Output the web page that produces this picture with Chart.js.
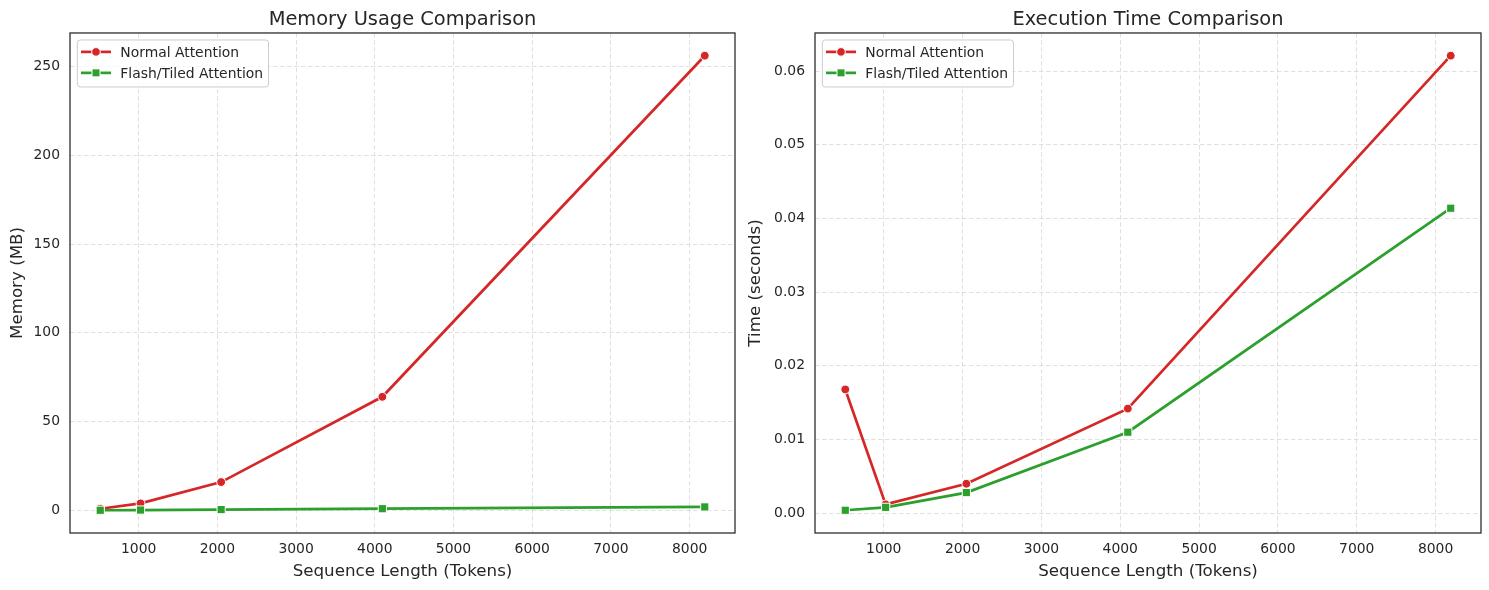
<!DOCTYPE html>
<html><head><meta charset="utf-8">
<script src="https://cdn.jsdelivr.net/npm/chart.js@4.4.1/dist/chart.umd.min.js"></script>
<style>
html,body{margin:0;padding:0;background:#fff;}
#wrap{position:relative;width:1489px;height:590px;overflow:hidden;}
canvas{position:absolute;top:0;}
</style></head><body>
<div id="wrap">
<canvas id="c1" width="745" height="590" style="left:0px"></canvas>
<canvas id="c2" width="744" height="590" style="left:745px"></canvas>
</div>
<script>
// ---- data ----
const seqLengths = [512, 1024, 2048, 4096, 8192];
const memoryNormal = [1, 4, 16, 64, 256];
const memoryFlash = [0.125, 0.25, 0.5, 1, 2];
const timeNormal = [0.0168, 0.0012, 0.0040, 0.0142, 0.0621];
const timeFlash = [0.0004, 0.0008, 0.0028, 0.0110, 0.0414];
const xTicks = [1000, 2000, 3000, 4000, 5000, 6000, 7000, 8000];
const memoryTicks = [0, 50, 100, 150, 200, 250];
const timeTicks = [0, 0.01, 0.02, 0.03, 0.04, 0.05, 0.06];
const seriesLabels = ['Normal Attention', 'Flash/Tiled Attention'];
const seriesColors = ['#d62728', '#2ca02c'];

const FONT = '"DejaVu Sans", "Liberation Sans", sans-serif';
const TEXT = '#262626';
const GRID = 'rgba(204,204,204,0.6)';

function padRange(vals) {
  const mn = Math.min(...vals), mx = Math.max(...vals);
  const m = (mx - mn) * 0.05;
  return [mn - m, mx + m];
}

const framePlugin = {
  id: 'frameLegend',
  afterDraw(chart) {
    const {ctx, chartArea: a} = chart;
    ctx.save();
    ctx.strokeStyle = TEXT;
    ctx.lineWidth = 1.25;
    ctx.strokeRect(a.left, a.top, a.right - a.left, a.bottom - a.top);
    // legend
    ctx.font = '13.9px ' + FONT;
    const tw = Math.max(...seriesLabels.map(l => ctx.measureText(l).width));
    const bx = a.left + 7.3, by = a.top + 7, bh = 47, bw = 43 + tw + 5.5;
    ctx.beginPath();
    ctx.roundRect(bx, by, bw, bh, 3);
    ctx.fillStyle = 'rgba(255,255,255,0.8)';
    ctx.fill();
    ctx.strokeStyle = '#cccccc';
    ctx.lineWidth = 1;
    ctx.stroke();
    seriesLabels.forEach((lab, i) => {
      const y = by + 11.9 + i * 21;
      const col = seriesColors[i];
      ctx.strokeStyle = col;
      ctx.lineWidth = 2.7;
      ctx.beginPath();
      ctx.moveTo(bx + 3.7, y);
      ctx.lineTo(bx + 33.7, y);
      ctx.stroke();
      ctx.fillStyle = col;
      ctx.strokeStyle = '#ffffff';
      ctx.lineWidth = 1;
      const mx = bx + 18.7;
      ctx.beginPath();
      if (i === 0) ctx.arc(mx, y, 4.3, 0, Math.PI * 2);
      else ctx.rect(mx - 4, y - 4, 8, 8);
      ctx.fill();
      ctx.stroke();
      ctx.fillStyle = TEXT;
      ctx.textBaseline = 'alphabetic';
      ctx.textAlign = 'left';
      ctx.fillText(lab, bx + 43, y + 5);
    });
    ctx.restore();
  }
};

function makeDataset(idx, vals) {
  return {
    label: seriesLabels[idx],
    data: seqLengths.map((x, i) => ({x: x, y: vals[i]})),
    borderColor: seriesColors[idx],
    backgroundColor: seriesColors[idx],
    borderWidth: 2.7,
    pointStyle: idx === 0 ? 'circle' : 'rect',
    pointRadius: idx === 0 ? 4.4 : 5.8,
    pointBackgroundColor: seriesColors[idx],
    pointBorderColor: '#ffffff',
    pointBorderWidth: 1,
    tension: 0,
    order: idx === 0 ? 1 : 0
  };
}

function makeChart(id, title, yTitle, seriesA, seriesB, yTicks, yFmt, yTitlePad, rightPad) {
  const xr = padRange(seqLengths);
  const yr = padRange(seriesA.concat(seriesB));
  return new Chart(document.getElementById(id), {
    type: 'line',
    data: {datasets: [makeDataset(0, seriesA), makeDataset(1, seriesB)]},
    options: {
      responsive: false,
      animation: false,
      devicePixelRatio: 1,
      layout: {padding: {left: 0, right: rightPad, top: 0, bottom: 0}},
      plugins: {
        legend: {display: false},
        tooltip: {enabled: false},
        title: {
          display: true, text: title, color: TEXT, fullSize: false,
          font: {family: FONT, size: 19.4, weight: 'normal', lineHeight: 1.2},
          padding: {top: 8.6, bottom: 1.1}
        }
      },
      scales: {
        x: {
          type: 'linear', min: xr[0], max: xr[1],
          afterBuildTicks: s => { s.ticks = xTicks.map(v => ({value: v})); },
          afterFit: s => { s.height = 57; },
          grid: {color: GRID, lineWidth: 1, drawTicks: false},
          border: {display: false, dash: [4.5, 2.5]},
          ticks: {padding: 8, color: TEXT, font: {family: FONT, size: 13.9}, maxRotation: 0, autoSkip: false,
                  callback: v => String(v)},
          title: {display: true, text: 'Sequence Length (Tokens)', color: TEXT,
                  font: {family: FONT, size: 16.7, lineHeight: 1.2}, padding: {top: 0, bottom: 8.5}}
        },
        y: {
          type: 'linear', min: yr[0], max: yr[1],
          afterBuildTicks: s => { s.ticks = yTicks.map(v => ({value: v})); },
          afterFit: s => { s.width = 70; },
          grid: {color: GRID, lineWidth: 1, drawTicks: false},
          border: {display: false, dash: [4.5, 2.5]},
          ticks: {padding: 10, color: TEXT, font: {family: FONT, size: 13.9}, callback: yFmt},
          title: {display: true, text: yTitle, color: TEXT,
                  font: {family: FONT, size: 16.7, lineHeight: 1.2}, padding: {top: yTitlePad, bottom: 0}}
        }
      }
    },
    plugins: [framePlugin]
  });
}

makeChart('c1', 'Memory Usage Comparison', 'Memory (MB)', memoryNormal, memoryFlash, memoryTicks,
  v => String(v), 7.5, 10);
makeChart('c2', 'Execution Time Comparison', 'Time (seconds)', timeNormal, timeFlash, timeTicks,
  v => v.toFixed(2), 1, 8);
</script>
</body></html>
